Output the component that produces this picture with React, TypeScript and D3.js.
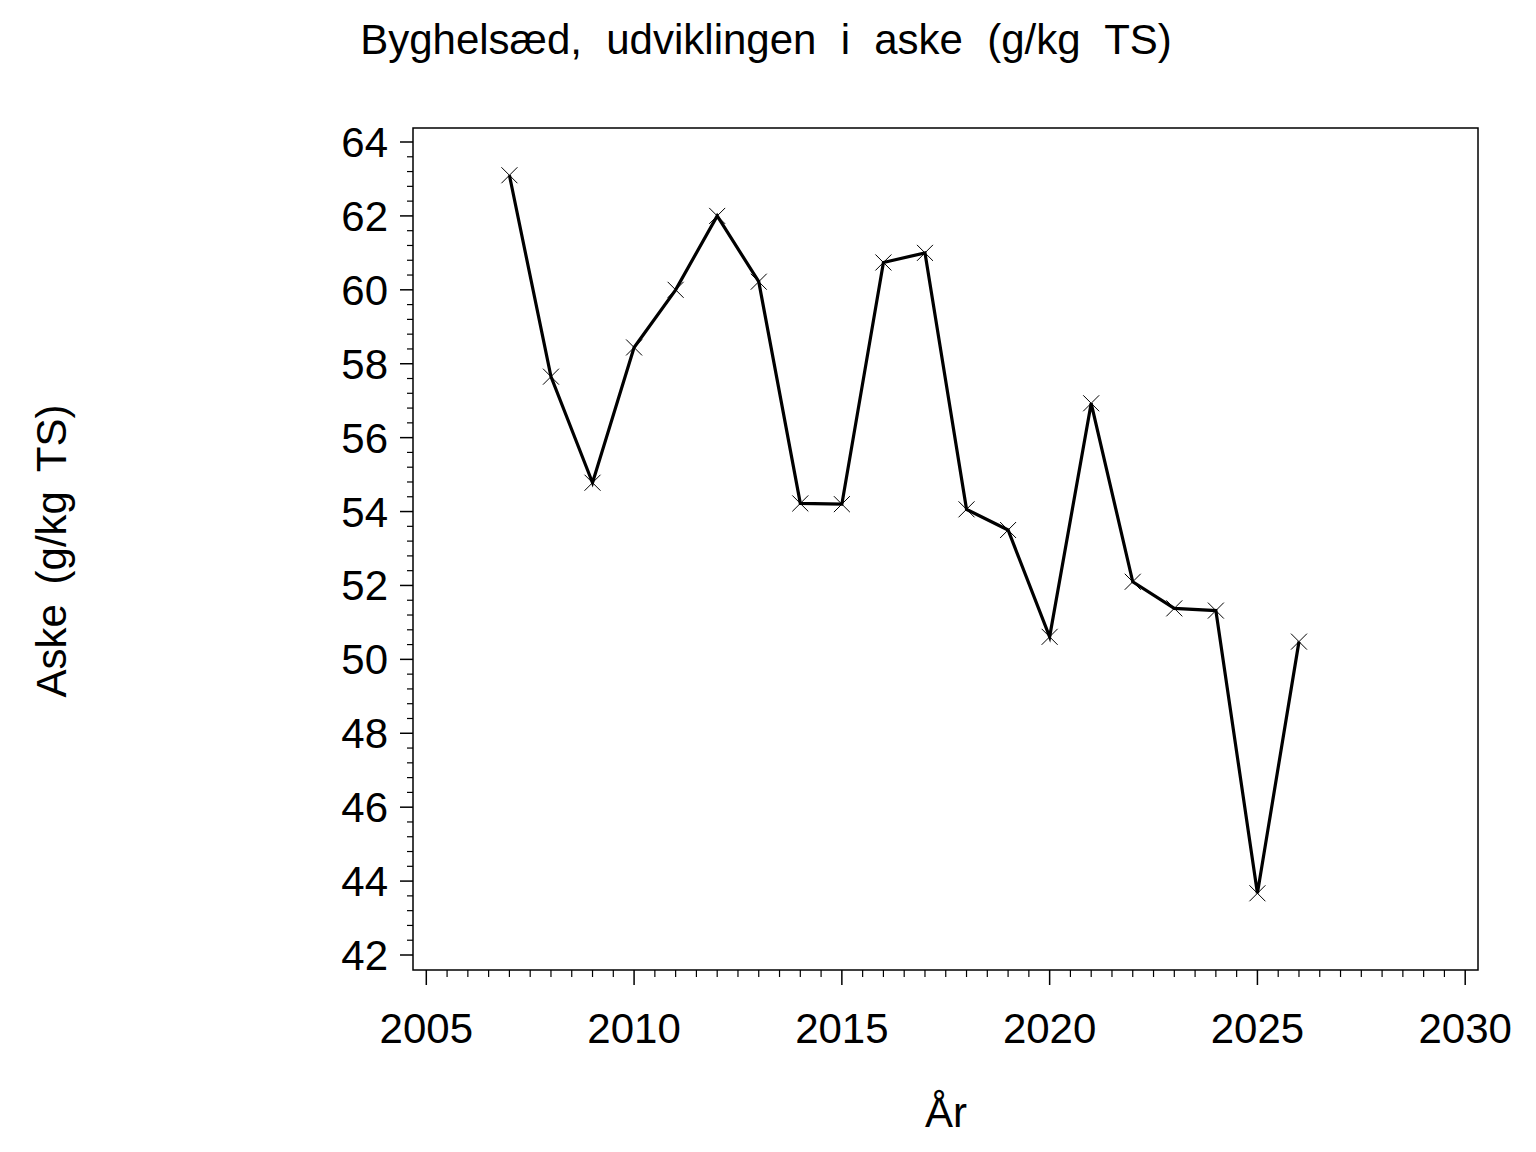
import React from "react";
import * as d3 from "d3";

const years = [2007, 2008, 2009, 2010, 2011, 2012, 2013, 2014, 2015, 2016, 2017, 2018, 2019, 2020, 2021, 2022, 2023, 2024, 2025, 2026];
const aske = [63.1, 57.65, 54.78, 58.44, 60.0, 62.0, 60.22, 54.22, 54.2, 60.74, 61.0, 54.06, 53.5, 50.61, 56.93, 52.1, 51.38, 51.32, 43.67, 50.48];
const xTicks = [2005, 2010, 2015, 2020, 2025, 2030];
const yTicks = [42, 44, 46, 48, 50, 52, 54, 56, 58, 60, 62, 64];
const title = "Byghelsæd, udviklingen i aske (g/kg TS)";
const xLabel = "År";
const yLabel = "Aske (g/kg TS)";

const W = 1536;
const H = 1152;
const frame = { left: 413, right: 1478, top: 128, bottom: 970 };
const FONT = "'Liberation Sans', Arial, Helvetica, sans-serif";

export default function App() {
  const x = d3.scaleLinear().domain([2005, 2030]).range([426.3, 1465.2]);
  const y = d3.scaleLinear().domain([42, 64]).range([955, 142]);

  const data = years.map((yr, i) => ({ yr, v: aske[i] }));
  const line = d3
    .line<{ yr: number; v: number }>()
    .x((d) => x(d.yr))
    .y((d) => y(d.v));

  const xMinor = d3.range(2005, 2030.001, 0.5).filter((t) => !xTicks.includes(t));
  const yMinor = d3.range(42, 64.001, 0.4).filter((t) => !yTicks.some((m) => Math.abs(m - t) < 1e-6));

  const m = 8;

  return (
    <div style={{ position: "absolute", left: 0, top: 0 }}>
      <svg width={W} height={H} viewBox={`0 0 ${W} ${H}`} style={{ display: "block", background: "#fff" }}>
        <rect x={0} y={0} width={W} height={H} fill="#fff" />
        <text
          x={766}
          y={54}
          textAnchor="middle"
          fontFamily={FONT}
          fontSize={42}
          style={{ wordSpacing: "12.6px" }}
          fill="#000"
        >
          {title}
        </text>

        <rect
          x={frame.left}
          y={frame.top}
          width={frame.right - frame.left}
          height={frame.bottom - frame.top}
          fill="none"
          stroke="#000"
          strokeWidth={1.5}
        />

        {/* Y axis ticks */}
        {yTicks.map((t) => (
          <g key={`y${t}`}>
            <line x1={frame.left - 13} x2={frame.left} y1={y(t)} y2={y(t)} stroke="#000" strokeWidth={1.5} />
            <text x={388} y={y(t) + 15} textAnchor="end" fontFamily={FONT} fontSize={42} fill="#000">
              {t}
            </text>
          </g>
        ))}
        {yMinor.map((t) => (
          <line key={`ym${t}`} x1={frame.left - 6} x2={frame.left} y1={y(t)} y2={y(t)} stroke="#000" strokeWidth={1.2} />
        ))}

        {/* X axis ticks */}
        {xTicks.map((t) => (
          <g key={`x${t}`}>
            <line x1={x(t)} x2={x(t)} y1={frame.bottom} y2={frame.bottom + 15} stroke="#000" strokeWidth={1.5} />
            <text x={x(t)} y={1043} textAnchor="middle" fontFamily={FONT} fontSize={42} fill="#000">
              {t}
            </text>
          </g>
        ))}
        {xMinor.map((t) => (
          <line key={`xm${t}`} x1={x(t)} x2={x(t)} y1={frame.bottom} y2={frame.bottom + 7} stroke="#000" strokeWidth={1.2} />
        ))}

        {/* Axis labels */}
        <text x={946} y={1127} textAnchor="middle" fontFamily={FONT} fontSize={42} fill="#000">
          {xLabel}
        </text>
        <text
          transform={`translate(66,551) rotate(-90)`}
          textAnchor="middle"
          fontFamily={FONT}
          fontSize={42}
          style={{ wordSpacing: "8px" }}
          fill="#000"
        >
          {yLabel}
        </text>

        {/* Data line */}
        <path d={line(data) ?? ""} fill="none" stroke="#000" strokeWidth={3.2} strokeLinejoin="miter" />
        {data.map((d) => (
          <g key={`p${d.yr}`} stroke="#000" strokeWidth={1}>
            <line x1={x(d.yr) - m} y1={y(d.v) - m} x2={x(d.yr) + m} y2={y(d.v) + m} />
            <line x1={x(d.yr) - m} y1={y(d.v) + m} x2={x(d.yr) + m} y2={y(d.v) - m} />
          </g>
        ))}
      </svg>
    </div>
  );
}
